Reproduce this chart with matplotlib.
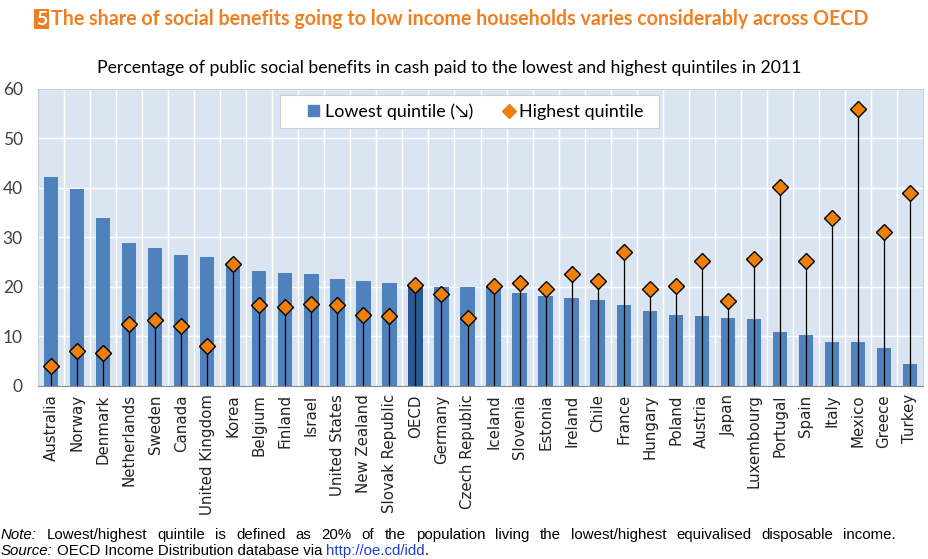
import numpy as np
import matplotlib.pyplot as plt
from matplotlib.lines import Line2D
from matplotlib.patches import Patch, Rectangle

# Данные
countries = ["Australia", "Norway", "Denmark", "Netherlands", "Sweden", "Canada",
             "United Kingdom", "Korea", "Belgium", "Finland", "Israel", "United States",
             "New Zealand", "Slovak Republic", "OECD", "Germany", "Czech Republic",
             "Iceland", "Slovenia", "Estonia", "Ireland", "Chile", "France", "Hungary",
             "Poland", "Austria", "Japan", "Luxembourg", "Portugal", "Spain", "Italy",
             "Mexico", "Greece", "Turkey"]
lowest = [42.3, 39.8, 34.0, 28.9, 27.8, 26.5, 26.1, 24.6, 23.3, 22.9, 22.6, 21.6,
          21.3, 20.9, 20.2, 20.0, 20.0, 20.0, 18.7, 18.2, 17.8, 17.3, 16.4, 15.2,
          14.4, 14.1, 13.8, 13.5, 10.9, 10.4, 8.9, 8.8, 7.7, 4.4]
highest = [4.0, 7.1, 6.7, 12.6, 13.3, 12.1, 8.0, 24.6, 16.3, 15.9, 16.5, 16.3,
           14.4, 14.1, 20.4, 18.5, 13.8, 20.2, 20.8, 19.5, 22.6, 21.3, 27.0, 19.5,
           20.2, 25.3, 17.1, 25.7, 40.1, 25.2, 34.0, 56.0, 31.1, 39.0]
yticks = [0, 10, 20, 30, 40, 50, 60]

blue = '#4f81bd'
dark_blue = '#2a5a94'
orange = '#f07f09'
title_orange = '#f07f22'

plt.rcParams['font.family'] = ['DejaVu Sans']

W, H = 929, 559
fig = plt.figure(figsize=(W / 100, H / 100), dpi=100)
ax = fig.add_axes([0.041, 0.3095, 0.9525, 0.5313])

x = np.arange(len(countries))
colors = [dark_blue if c == "OECD" else blue for c in countries]
ax.bar(x, lowest, width=0.55, color=colors, zorder=2)
ax.vlines(x, 0, highest, color='black', lw=0.9, zorder=3)
ax.plot(x, highest, 'D', color=orange, mec='black', mew=1.0, ms=8.5,
        ls='none', zorder=4)

ax.set_facecolor('#dbe5f1')
ax.set_xlim(-0.5, len(countries) - 0.5)
ax.set_ylim(0, 60)
ax.set_yticks(yticks)
ax.set_yticklabels([str(v) for v in yticks], fontsize=12.5, color='#404040',
                   family=['Lato', 'DejaVu Sans'])
ax.tick_params(axis='y', length=0, pad=11)
ax.set_xticks(x)
ax.set_xticklabels(countries, rotation=90, fontsize=10.8, color='#222222')
ax.tick_params(axis='x', length=0, pad=6)

# сетка: горизонтальная и между категориями
for v in yticks[1:]:
    ax.axhline(v, color='white', lw=1.0, zorder=1)
for b in np.arange(0.5, len(countries) - 0.5):
    ax.axvline(b, color='white', lw=1.0, zorder=1)
for s in ax.spines.values():
    s.set_color('#c8d0da')
ax.spines['bottom'].set_color('#8a8a8a')

# легенда: белая рамка отдельно, сама легенда без рамки
ax.add_patch(Rectangle((0.2734, 0.8687), 0.4283, 0.1111, transform=ax.transAxes,
                       fc='white', ec='#d0d0d0', lw=0.8, zorder=5))
handles = [Patch(color=blue), Line2D([], [], marker='D', color=orange, ls='none', ms=7)]
leg = ax.legend(handles, ["Lowest quintile (\u2198)", "Highest quintile"], ncol=2,
                loc='center left', bbox_to_anchor=(0.3055, 0.9242), frameon=False,
                handlelength=0.6, handleheight=0.6, handletextpad=0.3,
                columnspacing=1.7, borderpad=0, borderaxespad=0,
                prop={'family': ['Lato', 'DejaVu Sans'], 'size': 12.9})
leg.set_zorder(6)

# заголовки
fig.text(0.0385, 0.966, "5", fontsize=14, color='white', weight='bold',
         family='Lato', va='center', ha='left',
         bbox=dict(boxstyle='square,pad=0.1', fc=title_orange, ec='none'))
fig.text(0.055, 0.966, "The share of social benefits going to low income households varies considerably across OECD",
         fontsize=14.1, color=title_orange, weight='bold', family='Lato', va='center')
fig.text(0.484, 0.878, "Percentage of public social benefits in cash paid to the lowest and highest quintiles in 2011",
         fontsize=12.7, color='black', family='Lato', ha='center', va='center')

# примечание: выравнивание по ширине
renderer = fig.canvas.get_renderer()
fsz = 10.8


def put_words(words, x0, y, x1=None):
    arts = []
    for w, kw in words:
        t = fig.text(0, y / H, w, fontsize=fsz, family='Liberation Sans', va='center', **kw)
        arts.append((t, t.get_window_extent(renderer).width))
    space = 4
    if x1 is not None and len(arts) > 1:
        space = (x1 - x0 - sum(a[1] for a in arts)) / (len(arts) - 1)
    pos = x0
    for t, wdt in arts:
        t.set_x(pos / W)
        pos += wdt + space
    return pos


note = "Lowest/highest quintile is defined as 20% of the population living the lowest/highest equivalised disposable income."
put_words([("Note:", {'style': 'italic'})] + [(w, {}) for w in note.split()],
          1, H - 535, 896)
end = put_words([("Source:", {'style': 'italic'}), ("OECD Income Distribution database via", {}),
                 ("http://oe.cd/idd", {'color': '#1f3fcf'})], 1, H - 551)
fig.text((end - 4) / W, (H - 551) / H, ".", fontsize=fsz, family='Liberation Sans', va='center')

fig.savefig('out.png', dpi=100)
